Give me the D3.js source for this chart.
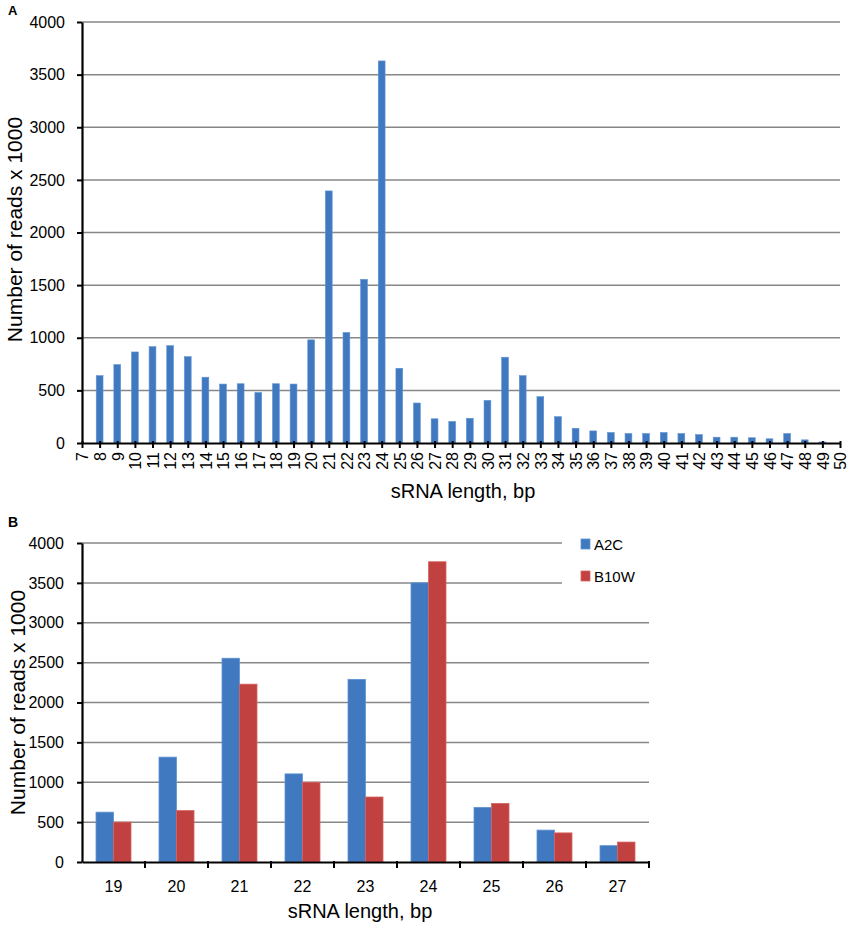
<!DOCTYPE html>
<html>
<script src="https://d3js.org/d3.v7.min.js"></script>

<head>
    <style>
        body {
            margin: 0;
            background-color: #ffffff;
            font-family: "Liberation Sans", Arial, Helvetica, sans-serif;
        }

        svg {
            display: block;
        }
    </style>
</head>

<body>
</body>
<script>
    const width = 851,
        height = 926;

    // panel A: read counts by sRNA length (x 1000)
    const lengthsA = ["7", "8", "9", "10", "11", "12", "13", "14", "15", "16", "17", "18", "19", "20", "21",
        "22", "23", "24", "25", "26", "27", "28", "29", "30", "31", "32", "33", "34", "35", "36", "37", "38",
        "39", "40", "41", "42", "43", "44", "45", "46", "47", "48", "49", "50"];
    const readsA = [null, 640, 745, 865, 915, 925, 820, 625, 560, 563, 480, 563, 560, 980, 2395,
        1050, 1555, 3630, 710, 380, 230, 205, 235, 405, 815, 640, 440, 250, 140, 115, 100, 90,
        90, 100, 90, 80, 55, 55, 50, 40, 90, 30, 10, null];

    // panel B: two libraries, 19-27 nt
    const lengthsB = ["19", "20", "21", "22", "23", "24", "25", "26", "27"];
    const seriesB = ["A2C", "B10W"];
    const readsA2C = [625, 1315, 2555, 1105, 2290, 3500, 685, 400, 205];
    const readsB10W = [500, 645, 2230, 1000, 815, 3765, 735, 365, 250];

    const yTicks = [0, 500, 1000, 1500, 2000, 2500, 3000, 3500, 4000];

    const colors = {
        "A2C": "#4079bf",
        "B10W": "#c0413f"
    };
    const strokes = {
        "A2C": "#5f93d3",
        "B10W": "#d46563"
    };

    const svg = d3.select("body").append("svg").attr("width", width).attr("height", height);

    function styleYAxis(g) {
        g.select(".domain").attr("stroke", "#000").attr("stroke-width", 2.2);
        g.selectAll(".tick line").attr("stroke", "#000").attr("stroke-width", 2);
        g.selectAll(".tick text").attr("font-size", 16).attr("fill", "#000")
            .attr("font-family", "Liberation Sans, Arial, sans-serif");
    }

    function drawA() {
        const x = d3.scalePoint().domain(lengthsA).range([82, 840]);
        const y = d3.scaleLinear().domain([0, 4000]).range([443, 22]);
        const g = svg.append("g");

        g.selectAll("line.grid")
            .data(yTicks.filter(d => d > 0))
            .join("line")
            .attr("class", "grid")
            .attr("x1", x.range()[0]).attr("x2", x.range()[1])
            .attr("y1", d => y(d)).attr("y2", d => y(d))
            .attr("stroke", "#878787").attr("stroke-width", 1.5);

        const data = lengthsA.map((d, i) => ({ len: d, reads: readsA[i] })).filter(d => d.reads !== null);
        g.selectAll("rect")
            .data(data)
            .join("rect")
            .attr("x", d => x(d.len) - 3.4)
            .attr("width", 6.8)
            .attr("y", d => y(d.reads))
            .attr("height", d => y(0) - y(d.reads))
            .attr("fill", colors.A2C)
            .attr("stroke", strokes.A2C)
            .attr("stroke-width", 0.6);

        g.append("g")
            .attr("transform", `translate(${x.range()[0]},0)`)
            .call(d3.axisLeft(y).tickValues(yTicks).tickFormat(d3.format("d"))
                .tickSize(5).tickSizeOuter(0).tickPadding(12))
            .call(styleYAxis);

        const xa = g.append("g")
            .attr("transform", `translate(0,${y(0)})`)
            .call(d3.axisBottom(x).tickSize(5).tickSizeOuter(0));
        xa.select(".domain").attr("stroke", "#000").attr("stroke-width", 2.2);
        xa.selectAll(".tick line").attr("stroke", "#000").attr("stroke-width", 2).attr("y1", -2);
        xa.selectAll(".tick text")
            .attr("transform", "rotate(-90)")
            .attr("x", -9).attr("y", 0).attr("dy", "0.36em")
            .attr("text-anchor", "end")
            .attr("font-size", 16).attr("fill", "#000")
            .attr("font-family", "Liberation Sans, Arial, sans-serif");

        g.append("text")
            .attr("x", (x.range()[0] + x.range()[1]) / 2 + 2).attr("y", 498)
            .attr("text-anchor", "middle").attr("font-size", 20)
            .text("sRNA length, bp");
        g.append("text")
            .attr("transform", `translate(22,${(y(0) + y(4000)) / 2 - 3}) rotate(-90)`)
            .attr("text-anchor", "middle").attr("font-size", 21)
            .text("Number of reads x 1000");
        g.append("text")
            .attr("x", 8).attr("y", 15)
            .attr("font-size", 13).attr("font-weight", "bold")
            .text("A");
    }

    function drawB() {
        const x0 = d3.scaleBand().domain(lengthsB).range([82, 649]);
        const x1 = d3.scaleBand().domain(seriesB).range([0, x0.bandwidth()]).paddingOuter(0.8);
        const y = d3.scaleLinear().domain([0, 4000]).range([862, 543]);
        const g = svg.append("g");
        const legendX = 581;

        g.selectAll("line.grid")
            .data(yTicks.filter(d => d > 0))
            .join("line")
            .attr("class", "grid")
            .attr("x1", x0.range()[0])
            .attr("x2", d => d >= 3500 ? legendX - 19 : x0.range()[1])
            .attr("y1", d => y(d)).attr("y2", d => y(d))
            .attr("stroke", "#878787").attr("stroke-width", 1.5);

        const data = [];
        lengthsB.forEach((len, i) => {
            data.push({ len: len, series: "A2C", reads: readsA2C[i] });
            data.push({ len: len, series: "B10W", reads: readsB10W[i] });
        });

        g.selectAll("rect.bar")
            .data(data)
            .join("rect")
            .attr("class", "bar")
            .attr("x", d => x0(d.len) + x1(d.series))
            .attr("width", x1.bandwidth())
            .attr("y", d => y(d.reads))
            .attr("height", d => y(0) - y(d.reads))
            .attr("fill", d => colors[d.series])
            .attr("stroke", d => strokes[d.series])
            .attr("stroke-width", 0.8);

        g.append("g")
            .attr("transform", `translate(${x0.range()[0]},0)`)
            .call(d3.axisLeft(y).tickValues(yTicks).tickFormat(d3.format("d"))
                .tickSize(5).tickSizeOuter(0).tickPadding(13))
            .call(styleYAxis);

        // category labels in the middle of each band, ticks on the band edges
        const xa = g.append("g")
            .attr("transform", `translate(0,${y(0)})`)
            .call(d3.axisBottom(x0).tickSize(0).tickSizeOuter(0).tickPadding(19));
        xa.select(".domain").attr("stroke", "#000").attr("stroke-width", 2.2);
        xa.selectAll(".tick text").attr("font-size", 16).attr("fill", "#000")
            .attr("font-family", "Liberation Sans, Arial, sans-serif");
        xa.selectAll("line.edge")
            .data(lengthsB.slice(1).map(d => x0(d)).concat([x0.range()[1]]))
            .join("line")
            .attr("class", "edge")
            .attr("x1", d => d).attr("x2", d => d)
            .attr("y1", -1).attr("y2", 6)
            .attr("stroke", "#000").attr("stroke-width", 2);

        const legend = g.selectAll("g.legend")
            .data(seriesB)
            .join("g")
            .attr("class", "legend")
            .attr("transform", (d, i) => `translate(${legendX},${539 + i * 32})`);
        legend.append("rect")
            .attr("width", 9).attr("height", 10)
            .attr("fill", d => colors[d])
            .attr("stroke", d => strokes[d]).attr("stroke-width", 0.8);
        legend.append("text")
            .attr("x", 13).attr("y", 10.5)
            .attr("font-size", 15)
            .text(d => d);

        g.append("text")
            .attr("x", 360).attr("y", 918)
            .attr("text-anchor", "middle").attr("font-size", 20)
            .text("sRNA length, bp");
        g.append("text")
            .attr("transform", `translate(25,${(y(0) + y(4000)) / 2}) rotate(-90)`)
            .attr("text-anchor", "middle").attr("font-size", 21)
            .text("Number of reads x 1000");
        g.append("text")
            .attr("x", 8).attr("y", 527)
            .attr("font-size", 14).attr("font-weight", "bold")
            .text("B");
    }

    drawA();
    drawB();
</script>

</html>
